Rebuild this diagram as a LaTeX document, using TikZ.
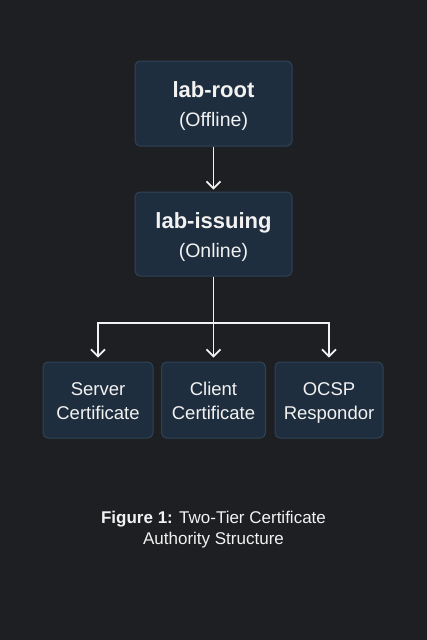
\documentclass[tikz,border=0pt]{standalone}
\usepackage{fontspec}
\setmainfont{Liberation Sans}
\usetikzlibrary{arrows.meta}
\definecolor{bgdark}{HTML}{1E1F22}
\definecolor{boxfill}{HTML}{1F2E3E}
\definecolor{boxline}{HTML}{2F4357}
\definecolor{inkwhite}{HTML}{F2F2F2}
% fixed line heights so every box sets its two lines alike
\newcommand{\tallup}[1]{\rule{0pt}{#1}}
\newcommand{\deepdown}[1]{\rule[-#1]{0pt}{#1}}
\begin{document}
\begin{tikzpicture}[x=1pt, y=-1pt,
    cabox/.style={draw=boxline, line width=1pt, fill=boxfill, rounded corners=5pt,
      text=inkwhite, align=center, inner sep=0pt},
    leafbox/.style={cabox, minimum height=76pt, font=\fontsize{18.5}{24}\selectfont},
    link/.style={draw=inkwhite, line width=1.7pt, -{Straight Barb[length=7pt, width=14pt, line width=1.7pt]}}]
    \fill[bgdark] (0,0) rectangle (427,640);
    \node[cabox, minimum width=157pt, minimum height=85pt, font=\fontsize{19.5}{29}\selectfont] (root) at (213.5,103.5)
      {{\bfseries\fontsize{22}{29}\selectfont\tallup{23.3pt}lab-root}\\(Offline)\deepdown{5.7pt}};
    \node[cabox, minimum width=157pt, minimum height=84pt, font=\fontsize{19.5}{29}\selectfont] (issuing) at (213.5,234)
      {{\bfseries\fontsize{22}{29}\selectfont\tallup{23.3pt}lab-issuing}\\(Online)\deepdown{5.7pt}};
    \node[leafbox, minimum width=110pt] (server) at (98,400) {\tallup{19.8pt}Server\\Certificate\deepdown{4.2pt}};
    \node[leafbox, minimum width=104pt] (client) at (213.5,400) {\tallup{19.8pt}Client\\Certificate\deepdown{4.2pt}};
    \node[leafbox, minimum width=108pt] (ocsp) at (329,400) {\tallup{19.8pt}OCSP\\Respondor\deepdown{4.2pt}};
    \coordinate (split) at (213.5,323);
    \draw [link, shorten >=2pt] (root) -- (issuing);
    \draw [link, shorten >=4pt] (issuing) -- (client);
    \draw [link, shorten >=4pt] (split) -| (server.north);
    \draw [link, shorten >=4pt] (split) -| (ocsp.north);
    \node[text=inkwhite, align=center, font=\fontsize{17}{21}\selectfont] (caption) at (213.5,530)
      {\textbf{Figure 1:} Two-Tier Certificate\strut\\Authority Structure\strut};
\end{tikzpicture}
\end{document}
